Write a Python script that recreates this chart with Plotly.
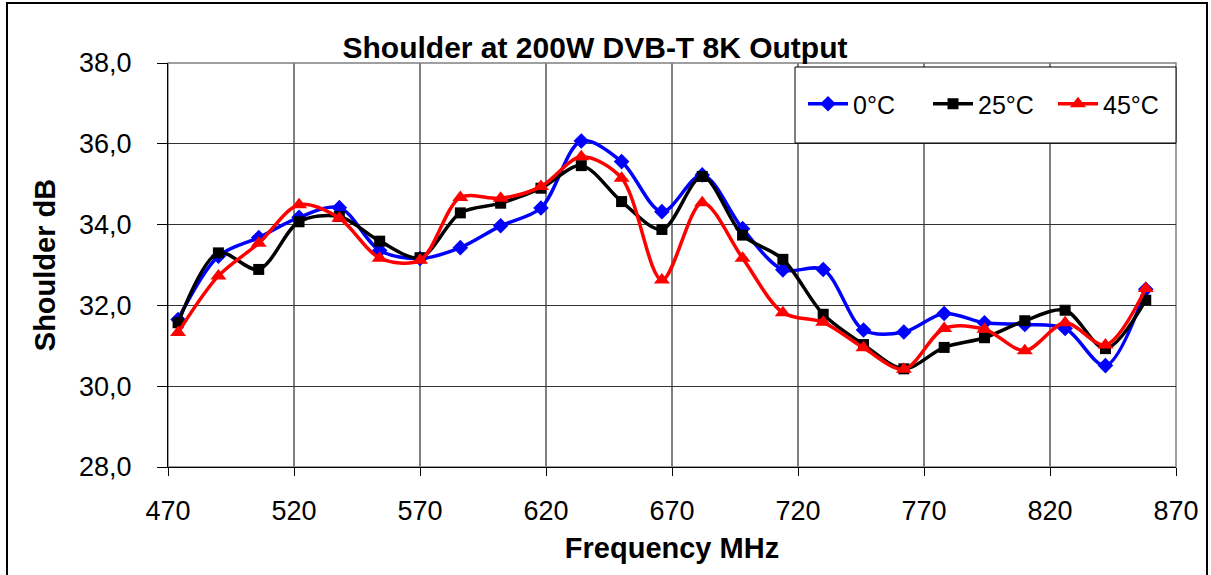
import plotly.graph_objects as go

freq = [474, 490, 506, 522, 538, 554, 570, 586, 602, 618, 634, 650, 666,
        682, 698, 714, 730, 746, 762, 778, 794, 810, 826, 842, 858]
t0 = [31.65, 33.22, 33.68, 34.18, 34.42, 33.36, 33.16, 33.43, 33.97, 34.41, 36.07, 35.56, 34.32,
      35.23, 33.90, 32.88, 32.89, 31.39, 31.34, 31.80, 31.57, 31.53, 31.43, 30.51, 32.40]
t25 = [31.57, 33.30, 32.89, 34.07, 34.20, 33.59, 33.18, 34.29, 34.53, 34.90, 35.46, 34.57, 33.88,
       35.19, 33.74, 33.14, 31.78, 31.03, 30.43, 30.96, 31.20, 31.62, 31.88, 30.93, 32.13]
t45 = [31.33, 32.73, 33.54, 34.49, 34.16, 33.17, 33.12, 34.67, 34.65, 34.94, 35.68, 35.15, 32.63,
       34.54, 33.17, 31.82, 31.58, 30.95, 30.42, 31.43, 31.41, 30.88, 31.57, 31.02, 32.42]
series_names = ["0°C", "25°C", "45°C"]
colors = ["#0000FF", "#000000", "#FF0000"]
symbols = ["diamond", "square", "triangle-up"]
msizes = [12, 11, 14]
x_ticks = [470, 520, 570, 620, 670, 720, 770, 820, 870]
y_ticks = [28, 30, 32, 34, 36, 38]

FONT = "Arial, Liberation Sans, sans-serif"
W, H = 1211, 575
L, R, T, B = 168, 35, 63, 108
PW, PH = W - L - R, H - T - B

def px(x):
    return (x - L) / PW

def py(y):
    return (H - B - y) / PH

fig = go.Figure()
for vals, name, c, s, ms in zip([t0, t25, t45], series_names, colors, symbols, msizes):
    fig.add_trace(go.Scatter(
        x=freq, y=vals, name=name, mode="lines+markers",
        line=dict(color=c, width=3.5, shape="spline", smoothing=0.9),
        marker=dict(symbol=s, size=ms, color=c),
    ))

fig.update_layout(
    width=W, height=H,
    margin=dict(l=L, r=R, t=T, b=B, autoexpand=False),
    paper_bgcolor="white", plot_bgcolor="white",
    separators=",.",
    font=dict(family=FONT, size=27, color="black"),
    title=dict(text="<b>Shoulder at 200W DVB-T 8K Output</b>", xref="container",
               x=595 / W, xanchor="center", yref="container",
               y=1 - 47 / H, yanchor="middle", font=dict(size=30, family=FONT)),
    xaxis=dict(range=[470, 870], tickvals=x_ticks, ticks="outside", ticklen=8,
               tickcolor="black", showline=True, linecolor="black", linewidth=1,
               showgrid=True, gridcolor="#808080", gridwidth=1.5, zeroline=False,
               tickfont=dict(size=27), ticklabelstandoff=12,
               title=dict(text="<b>Frequency MHz</b>", font=dict(size=29), standoff=12)),
    yaxis=dict(range=[28, 38], tickvals=y_ticks, tickformat=".1f", ticks="outside", ticklen=10,
               tickcolor="black", showline=True, linecolor="black", linewidth=1,
               showgrid=True, gridcolor="#333333", gridwidth=1, zeroline=False,
               tickfont=dict(size=27), ticklabelstandoff=20,
               title=dict(text="<b>Shoulder dB</b>", font=dict(size=29), standoff=14)),
    legend=dict(orientation="h", x=px(803), xanchor="left", y=py(104), yanchor="middle",
                bgcolor="rgba(0,0,0,0)", borderwidth=0, font=dict(size=25),
                itemwidth=40, tracegroupgap=0, entrywidth=70),
    showlegend=True,
)

# plot-area top/right border
fig.add_shape(type="rect", xref="paper", yref="paper", x0=0, x1=1, y0=0, y1=1,
              line=dict(color="#808080", width=1.5), layer="below")
# legend box
fig.add_shape(type="rect", xref="paper", yref="paper", x0=px(795), x1=px(1176),
              y0=py(143), y1=py(67), line=dict(color="black", width=1),
              fillcolor="white", layer="above")
# outer chart border
fig.add_shape(type="rect", xref="paper", yref="paper", x0=px(7), x1=px(1207),
              y0=py(585), y1=py(3), line=dict(color="black", width=2))

fig.write_html("out.html", config={"displayModeBar": False},
               post_script="document.body.style.margin='0px';")
